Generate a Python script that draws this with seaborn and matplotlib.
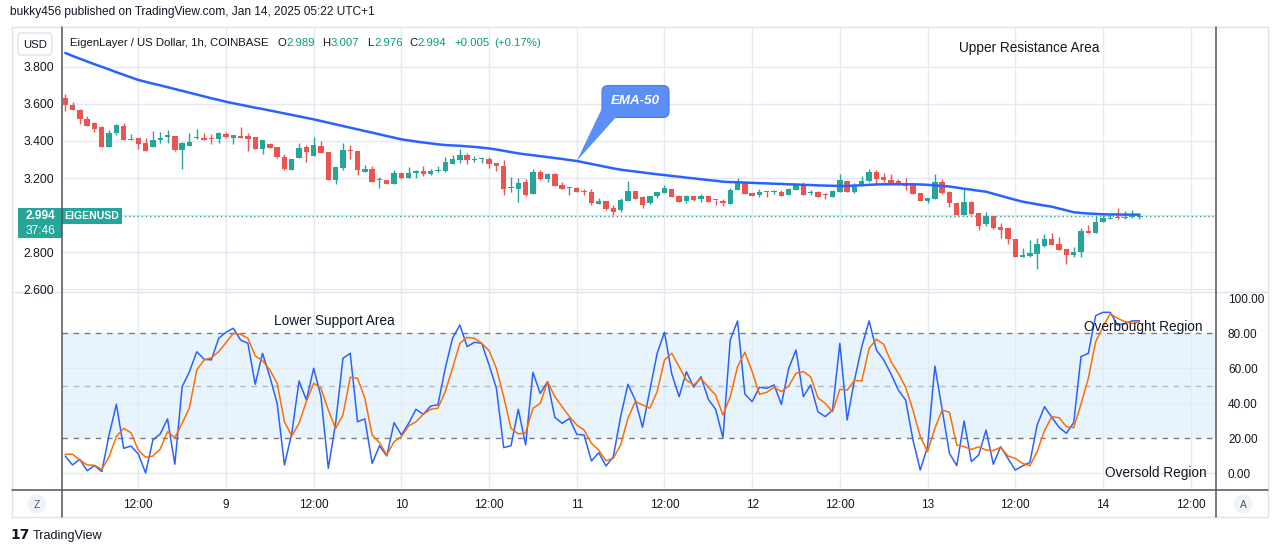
import numpy as np
import pandas as pd
import matplotlib
matplotlib.use("Agg")
import matplotlib.pyplot as plt
import seaborn as sns
from matplotlib.patches import Rectangle, FancyBboxPatch, Polygon, Circle
from matplotlib.transforms import blended_transform_factory

# ---------------- data (hours counted from Jan 8 00:00, UTC+1) ----------------
hours = list(range(2, 150))

opens = [3.631, 3.595, 3.568, 3.519, 3.497, 3.476, 3.369, 3.445, 3.481, 3.407,
         3.416, 3.391, 3.369, 3.405, 3.423, 3.427, 3.353, 3.375, 3.416, 3.414,
         3.414, 3.411, 3.438, 3.418, 3.427, 3.427, 3.420, 3.359, 3.382, 3.366,
         3.312, 3.243, 3.310, 3.367, 3.321, 3.373, 3.341, 3.189, 3.256, 3.350,
         3.346, 3.234, 3.249, 3.187, 3.187, 3.169, 3.225, 3.202, 3.225, 3.240,
         3.223, 3.236, 3.238, 3.276, 3.297, 3.326, 3.295, 3.304, 3.303, 3.281,
         3.265, 3.144, 3.142, 3.178, 3.113, 3.232, 3.195, 3.222, 3.162, 3.146,
         3.146, 3.125, 3.124, 3.061, 3.076, 3.038, 3.025, 3.077, 3.130, 3.097,
         3.065, 3.103, 3.119, 3.139, 3.103, 3.077, 3.103, 3.086, 3.103, 3.081,
         3.074, 3.059, 3.135, 3.180, 3.121, 3.108, 3.126, 3.124, 3.126, 3.108,
         3.137, 3.162, 3.120, 3.126, 3.113, 3.095, 3.126, 3.184, 3.124, 3.159,
         3.184, 3.231, 3.204, 3.189, 3.182, 3.168, 3.162, 3.119, 3.076, 3.087,
         3.178, 3.124, 3.065, 2.998, 3.072, 3.013, 2.951, 2.996, 2.935, 2.928,
         2.870, 2.775, 2.780, 2.791, 2.831, 2.870, 2.843, 2.816, 2.786, 2.802,
         2.914, 2.905, 2.964, 2.980, 2.987, 2.984, 2.989, 2.989]
highs = [3.652, 3.609, 3.572, 3.535, 3.503, 3.481, 3.459, 3.494, 3.499, 3.438,
         3.418, 3.414, 3.454, 3.450, 3.458, 3.429, 3.396, 3.445, 3.465, 3.443,
         3.436, 3.450, 3.450, 3.434, 3.476, 3.441, 3.423, 3.404, 3.389, 3.369,
         3.330, 3.301, 3.391, 3.377, 3.420, 3.400, 3.341, 3.258, 3.389, 3.377,
         3.346, 3.268, 3.263, 3.207, 3.189, 3.243, 3.227, 3.259, 3.241, 3.263,
         3.250, 3.263, 3.312, 3.324, 3.355, 3.333, 3.317, 3.308, 3.314, 3.283,
         3.297, 3.207, 3.202, 3.193, 3.249, 3.243, 3.229, 3.229, 3.178, 3.149,
         3.150, 3.139, 3.142, 3.092, 3.076, 3.054, 3.090, 3.184, 3.130, 3.101,
         3.103, 3.124, 3.162, 3.139, 3.106, 3.108, 3.103, 3.113, 3.103, 3.082,
         3.085, 3.144, 3.202, 3.182, 3.121, 3.140, 3.130, 3.135, 3.135, 3.144,
         3.169, 3.178, 3.137, 3.131, 3.121, 3.135, 3.222, 3.184, 3.171, 3.211,
         3.249, 3.241, 3.225, 3.222, 3.193, 3.200, 3.162, 3.121, 3.094, 3.222,
         3.195, 3.131, 3.072, 3.139, 3.076, 3.013, 3.016, 2.996, 2.957, 2.930,
         2.870, 2.820, 2.865, 2.874, 2.897, 2.903, 2.879, 2.816, 2.825, 2.928,
         2.944, 2.995, 2.998, 3.007, 3.036, 3.023, 3.025, 3.007]
lows = [3.564, 3.568, 3.492, 3.483, 3.450, 3.369, 3.369, 3.432, 3.405, 3.405,
        3.357, 3.348, 3.369, 3.391, 3.391, 3.348, 3.250, 3.375, 3.409, 3.407,
        3.382, 3.391, 3.414, 3.386, 3.414, 3.348, 3.359, 3.330, 3.360, 3.310,
        3.243, 3.243, 3.310, 3.288, 3.321, 3.337, 3.189, 3.169, 3.241, 3.303,
        3.218, 3.234, 3.180, 3.148, 3.169, 3.169, 3.193, 3.202, 3.202, 3.211,
        3.218, 3.232, 3.234, 3.276, 3.283, 3.278, 3.287, 3.283, 3.256, 3.240,
        3.110, 3.124, 3.072, 3.104, 3.113, 3.189, 3.178, 3.159, 3.142, 3.108,
        3.122, 3.110, 3.052, 3.061, 3.027, 2.998, 3.018, 3.077, 3.086, 3.040,
        3.059, 3.094, 3.119, 3.099, 3.072, 3.067, 3.077, 3.072, 3.072, 3.052,
        3.050, 3.059, 3.135, 3.115, 3.103, 3.095, 3.099, 3.112, 3.104, 3.108,
        3.137, 3.108, 3.108, 3.097, 3.088, 3.095, 3.126, 3.123, 3.121, 3.159,
        3.180, 3.168, 3.180, 3.171, 3.160, 3.135, 3.115, 3.076, 3.067, 3.087,
        3.115, 3.041, 2.998, 2.998, 2.998, 2.919, 2.941, 2.924, 2.876, 2.845,
        2.773, 2.773, 2.771, 2.706, 2.827, 2.836, 2.813, 2.735, 2.775, 2.775,
        2.905, 2.905, 2.964, 2.977, 2.978, 2.978, 2.982, 2.976]
closes = [3.595, 3.569, 3.521, 3.483, 3.465, 3.369, 3.443, 3.487, 3.405, 3.411,
          3.386, 3.348, 3.405, 3.416, 3.434, 3.351, 3.391, 3.395, 3.420, 3.407,
          3.409, 3.445, 3.420, 3.432, 3.416, 3.413, 3.359, 3.404, 3.364, 3.313,
          3.249, 3.301, 3.362, 3.339, 3.378, 3.337, 3.189, 3.258, 3.351, 3.346,
          3.241, 3.249, 3.180, 3.191, 3.169, 3.225, 3.202, 3.225, 3.240, 3.223,
          3.240, 3.241, 3.286, 3.303, 3.326, 3.295, 3.301, 3.308, 3.277, 3.267,
          3.142, 3.148, 3.175, 3.110, 3.234, 3.195, 3.222, 3.159, 3.142, 3.148,
          3.122, 3.122, 3.063, 3.076, 3.034, 3.018, 3.081, 3.130, 3.086, 3.056,
          3.103, 3.124, 3.146, 3.099, 3.072, 3.101, 3.081, 3.103, 3.072, 3.079,
          3.063, 3.135, 3.178, 3.115, 3.103, 3.124, 3.122, 3.126, 3.104, 3.140,
          3.162, 3.108, 3.124, 3.097, 3.110, 3.130, 3.189, 3.123, 3.162, 3.184,
          3.231, 3.197, 3.189, 3.175, 3.160, 3.157, 3.115, 3.076, 3.092, 3.178,
          3.121, 3.063, 2.998, 3.070, 3.007, 2.941, 2.996, 2.930, 2.921, 2.870,
          2.773, 2.784, 2.795, 2.841, 2.870, 2.840, 2.813, 2.786, 2.800, 2.914,
          2.905, 2.962, 2.984, 2.984, 2.984, 2.987, 2.996, 2.994]
ema50 = [3.876, 3.860, 3.845, 3.830, 3.815, 3.801, 3.787, 3.772, 3.758, 3.744, 3.730,
         3.720, 3.710, 3.701, 3.691, 3.681, 3.671, 3.661, 3.651, 3.641, 3.631, 3.622, 3.612,
         3.604, 3.596, 3.588, 3.580, 3.573, 3.565, 3.557, 3.549, 3.541, 3.533, 3.525, 3.517,
         3.508, 3.499, 3.490, 3.481, 3.472, 3.463, 3.454, 3.445, 3.436, 3.427, 3.418, 3.409,
         3.403, 3.397, 3.392, 3.387, 3.382, 3.378, 3.376, 3.374,
         3.371, 3.368, 3.364, 3.360, 3.354, 3.347, 3.340, 3.333,
         3.328, 3.323, 3.318, 3.313, 3.308, 3.303, 3.297, 3.292,
         3.284, 3.276, 3.268, 3.260, 3.252, 3.245,
         3.240, 3.235, 3.230, 3.225, 3.220, 3.216,
         3.211, 3.207, 3.202, 3.198, 3.193, 3.189, 3.185, 3.180,
         3.178, 3.177, 3.175, 3.174, 3.172, 3.171, 3.169, 3.168,
         3.166, 3.165, 3.163, 3.162, 3.160, 3.159, 3.158, 3.157, 3.157,
         3.159, 3.161, 3.163, 3.165, 3.166,
         3.166, 3.166, 3.166, 3.166, 3.165,
         3.163, 3.160, 3.157, 3.154,
         3.148, 3.142, 3.137, 3.131, 3.126,
         3.115, 3.104, 3.093, 3.082, 3.072,
         3.065, 3.058, 3.051, 3.045,
         3.035, 3.025, 3.015,
         3.011, 3.008, 3.006, 3.004,
         3.003, 3.003, 3.002, 3.002, 3.002]
stoch_k = [9.7, 4.6, 7.8, 1.3, 4.2, 0.8, 21.7, 39.2, 14.1, 15.4,
           10.9, 0.0, 18.9, 22.3, 30.9, 5.0, 49.3, 57.9, 69.3, 65.0,
           64.6, 77.0, 80.4, 82.7, 76.0, 74.1, 50.7, 68.4, 55.0, 39.8,
           4.6, 22.7, 52.6, 41.7, 59.8, 43.6, 2.7, 28.4, 65.5, 68.4,
           29.3, 30.9, 5.5, 15.6, 9.7, 28.8, 21.7, 28.4, 36.4, 33.5,
           38.3, 38.9, 59.8, 77.0, 84.6, 72.2, 74.7, 74.1, 61.7, 48.4,
           14.5, 15.6, 36.4, 16.0, 57.5, 45.5, 52.2, 31.8, 28.4, 31.2,
           22.1, 21.7, 6.9, 11.6, 4.0, 9.3, 32.2, 50.7, 41.7, 26.1,
           47.4, 68.4, 80.4, 56.6, 43.6, 57.9, 49.0, 55.0, 42.1, 36.4,
           20.2, 76.0, 86.9, 45.1, 40.8, 49.0, 48.4, 50.3, 39.2, 59.8,
           70.3, 43.6, 50.3, 35.0, 32.2, 36.0, 74.1, 30.3, 53.1, 72.2,
           86.9, 70.3, 64.6, 56.6, 47.4, 41.7, 18.9, 1.7, 15.0, 61.1,
           36.0, 11.2, 4.2, 29.7, 6.5, 10.3, 24.6, 5.0, 15.0, 8.4,
           1.7, 4.0, 6.1, 27.4, 37.9, 31.8, 26.1, 22.7, 28.8, 66.5,
           68.4, 89.9, 91.8, 91.8, 84.6, 85.5, 86.9, 87.0]
stoch_d = [10.7, 10.7, 7.4, 4.6, 4.4, 2.1, 9.3, 20.8, 25.5, 23.0,
           13.1, 9.0, 9.7, 13.7, 23.6, 20.2, 28.4, 37.3, 58.9, 64.6,
           65.9, 69.3, 74.5, 79.8, 79.2, 77.0, 66.9, 64.2, 58.9, 51.2,
           29.3, 21.1, 28.4, 40.8, 51.2, 48.4, 36.0, 25.5, 33.1, 54.7,
           54.1, 42.7, 21.7, 17.3, 10.3, 17.9, 20.8, 26.9, 29.3, 33.5,
           36.4, 37.0, 46.5, 59.8, 74.1, 77.5, 77.0, 74.1, 69.9, 59.8,
           43.6, 25.5, 22.3, 23.0, 37.0, 39.8, 52.2, 43.6, 37.9, 32.2,
           27.4, 24.6, 17.0, 13.1, 7.0, 8.4, 16.0, 31.2, 40.8, 38.9,
           37.0, 46.5, 64.6, 68.4, 60.8, 53.1, 50.3, 54.1, 49.0, 44.6,
           33.1, 43.6, 60.8, 69.0, 57.9, 45.0, 46.1, 49.0, 46.5, 49.7,
           57.0, 57.9, 55.0, 43.0, 39.8, 35.0, 47.8, 47.4, 52.8, 52.6,
           71.2, 76.4, 73.5, 63.6, 57.0, 49.0, 36.0, 20.8, 12.2, 25.5,
           36.0, 34.7, 16.0, 15.0, 13.5, 15.0, 13.1, 12.8, 14.7, 9.7,
           8.4, 5.5, 4.2, 12.2, 24.2, 32.2, 31.6, 26.5, 25.9, 39.4,
           54.1, 75.0, 83.6, 90.9, 88.4, 86.5, 85.5, 86.3]

tick_hours = [12, 24, 36, 48, 60, 72, 84, 96, 108, 120, 132, 144, 156]
tick_labels = ["12:00", "9", "12:00", "10", "12:00", "11", "12:00", "12",
               "12:00", "13", "12:00", "14", "12:00"]
price_labels = [2.6, 2.8, 3.2, 3.4, 3.6, 3.8]
price_grid = [2.6, 2.8, 3.0, 3.2, 3.4, 3.6, 3.8]
stoch_ticks = [0, 20, 40, 60, 80, 100]
stoch_grid = [0, 40, 60]
countdown = "37:46"
symbol = "EIGENUSD"
callout_hour = 72

# ---------------- style ----------------
sns.set_style("white")
plt.rcParams["font.family"] = ["Liberation Sans", "DejaVu Sans"]

GREEN = "#26a69a"
RED = "#ef5350"
TEAL_TXT = "#089981"
BLUE = "#2962ff"
ORANGE = "#ff6d00"
GRID = "#e4eaf1"
LIGHT = "#e0e3eb"
DARK = "#50535e"
TXT = "#131722"
CALL = "#5b8ff5"

W, H = 1281, 553
fig = plt.figure(figsize=(W / 100, H / 100), dpi=100)
fig.patch.set_facecolor("white")


def frac_rect(x0, y0, x1, y1):
    return [x0 / W, (H - y1) / H, (x1 - x0) / W, (y1 - y0) / H]


bg = fig.add_axes([0, 0, 1, 1], zorder=0)
bg.set_xlim(0, W); bg.set_ylim(H, 0); bg.axis("off")
ax_p = fig.add_axes(frac_rect(62, 27, 1216, 292), zorder=1)
ax_s = fig.add_axes(frac_rect(62, 292, 1216, 490), zorder=1)
fg = fig.add_axes([0, 0, 1, 1], zorder=5)
fg.set_xlim(0, W); fg.set_ylim(H, 0); fg.axis("off")
for a in (ax_p, ax_s):
    a.set_facecolor("none")
    for s in a.spines.values():
        s.set_visible(False)

XLIM = (1.56, 159.47)
P_LIM = (2.5838, 4.0162)
S_LIM = (-9.714, 103.43)

# ---------------- price pane ----------------
ax_p.set_xlim(*XLIM); ax_p.set_ylim(*P_LIM)
for t in tick_hours:
    ax_p.axvline(t, color=GRID, lw=1, zorder=0)
for p in price_grid:
    ax_p.axhline(p, color=GRID, lw=1, zorder=0)

o = np.array(opens); c = np.array(closes)
hi = np.array(highs); lo = np.array(lows)
cols = np.where(c >= o, GREEN, RED)
ax_p.vlines(hours, lo, hi, colors=cols, lw=1.0, zorder=2)
ax_p.bar(hours, np.maximum(np.abs(c - o), 0.0055), bottom=np.minimum(o, c),
         width=0.74, color=cols, lw=0, zorder=3)

df_p = pd.DataFrame({"hour": hours, "ema": ema50})
sns.lineplot(data=df_p, x="hour", y="ema", ax=ax_p, color=BLUE, lw=1.8,
             estimator=None, errorbar=None, zorder=4)

last_close = closes[-1]
ax_p.axhline(last_close, color=GREEN, lw=1, ls=(0, (1, 2)), zorder=1)

ax_p.set_xticks([])
ax_p.set_yticks(price_labels)
ax_p.set_yticklabels([f"{v:.3f}" for v in price_labels])
ax_p.tick_params(axis="y", length=0, pad=5.8, labelsize=8.8, labelcolor=TXT)
ax_p.set_xlabel(""); ax_p.set_ylabel("")

# last price label
tr = blended_transform_factory(ax_p.transAxes, ax_p.transData)
ppu = 265.0 / (P_LIM[1] - P_LIM[0])
axw = 1154.0
ax_p.add_patch(Rectangle((-44 / axw, last_close - 22.3 / ppu), 44 / axw, 30 / ppu,
                         transform=tr, clip_on=False, color=GREEN, lw=0, zorder=8))
ax_p.add_patch(Rectangle((0, last_close - 8.3 / ppu), 60 / axw, 16 / ppu,
                         transform=tr, clip_on=False, color=GREEN, lw=0, zorder=8))
ax_p.text(-22 / axw, last_close, f"{last_close:.3f}", transform=tr, color="white",
          fontsize=8.6, fontweight="bold", ha="center", va="center", zorder=9, clip_on=False)
ax_p.text(-22 / axw, last_close - 15 / ppu, countdown, transform=tr, color="white",
          fontsize=8.6, ha="center", va="center", zorder=9, clip_on=False)
ax_p.text(30 / axw, last_close, symbol, transform=tr, color="white",
          fontsize=7.6, fontweight="bold", ha="center", va="center", zorder=9, clip_on=False)

# ---------------- stochastic pane ----------------
ax_s.set_xlim(*XLIM); ax_s.set_ylim(*S_LIM)
ax_s.axhspan(20, 80, color="#2196f3", alpha=0.1, lw=0, zorder=0)
for t in tick_hours:
    ax_s.axvline(t, color=GRID, lw=1, zorder=0)
for g in stoch_grid:
    ax_s.axhline(g, color=GRID, lw=1, zorder=0)
ax_s.axhline(80, color="#787b86", lw=1, ls=(0, (4, 4)), zorder=1)
ax_s.axhline(20, color="#787b86", lw=1, ls=(0, (4, 4)), zorder=1)
ax_s.axhline(50, color="#787b86", alpha=0.5, lw=1, ls=(0, (4, 4)), zorder=1)

df_s = pd.DataFrame({"hour": hours, "K": stoch_k, "D": stoch_d})
sns.lineplot(data=df_s, x="hour", y="K", ax=ax_s, color=BLUE, lw=1.1,
             estimator=None, errorbar=None, zorder=3)
sns.lineplot(data=df_s, x="hour", y="D", ax=ax_s, color=ORANGE, lw=1.1,
             estimator=None, errorbar=None, zorder=4)
ax_s.set_xlabel(""); ax_s.set_ylabel("")
ax_s.yaxis.tick_right()
ax_s.set_yticks(stoch_ticks)
ax_s.set_yticklabels([f"{v:.2f}" for v in stoch_ticks])
ax_s.tick_params(axis="y", length=0, pad=8.6, labelsize=8.5, labelcolor=TXT)
ax_s.set_xticks(tick_hours)
ax_s.set_xticklabels(tick_labels)
ax_s.tick_params(axis="x", length=0, pad=6.5, labelsize=8.5, labelcolor=TXT)

# ---------------- frame ----------------
bg.add_patch(Rectangle((12, 27), 1256, 490, fill=False, ec=LIGHT, lw=1))
bg.plot([12, 1268], [292, 292], color=LIGHT, lw=1)
fg.plot([12, 1268], [490, 490], color=DARK, lw=1.1)
fg.plot([62, 62], [27, 517], color=DARK, lw=1.1)
fg.plot([1216, 1216], [27, 517], color=DARK, lw=1.1)

# header
bg.text(10, 12, "bukky456 published on TradingView.com, Jan 14, 2025 05:22 UTC+1",
        fontsize=8.6, color=TXT, ha="left", va="center")
bg.add_patch(FancyBboxPatch((18, 33), 34, 22, boxstyle="round,pad=0,rounding_size=4",
                            fc="white", ec=LIGHT, lw=1))
bg.text(35, 44.5, "USD", fontsize=8.2, color=TXT, ha="center", va="center")
hdr = [("EigenLayer / US Dollar, 1h, COINBASE", 70, TXT),
       ("O", 278, TXT), ("2.989", 286, TEAL_TXT),
       ("H", 322, TXT), ("3.007", 330.5, TEAL_TXT),
       ("L", 367, TXT), ("2.976", 374, TEAL_TXT),
       ("C", 409, TXT), ("2.994", 417, TEAL_TXT),
       ("+0.005", 454, TEAL_TXT), ("(+0.17%)", 494, TEAL_TXT)]
for s, x, col in hdr:
    fg.text(x, 43, s, fontsize=8.2, color=col, ha="left", va="center")

# annotations
fg.text(1029, 48, "Upper Resistance Area", fontsize=9.8, color=TXT, ha="center", va="center")
fg.text(334, 321, "Lower Support Area", fontsize=9.8, color=TXT, ha="center", va="center")
fg.text(1143, 327, "Overbought Region", fontsize=9.8, color=TXT, ha="center", va="center")
fg.text(1156, 473, "Oversold Region", fontsize=9.8, color=TXT, ha="center", va="center")

# EMA-50 callout
tip = ax_p.transData.transform((callout_hour, ema50[hours.index(callout_hour)]))
tipx, tipy = tip[0], H - tip[1]
fg.add_patch(FancyBboxPatch((602, 85.5), 67, 32, boxstyle="round,pad=0,rounding_size=6",
                            fc=CALL, ec="#4a7be6", lw=0.8, zorder=6))
fg.add_patch(Polygon([(tipx, tipy), (602.6, 107), (616, 117.2)], closed=True,
                     fc=CALL, ec="none", zorder=7))
fg.text(635.5, 101.5, "EMA-50", fontsize=9.6, color="white", fontweight="bold",
        fontstyle="italic", ha="center", va="center", zorder=8)

# axis buttons
for cx, lab in [(37, "Z"), (1243, "A")]:
    bg.add_patch(Circle((cx, 504), 9.5, fc="#f0f3fa", ec="none"))
    bg.text(cx, 504.5, lab, fontsize=7.5, color=DARK, ha="center", va="center")

# logo
bg.text(10, 535, "17", fontsize=10, fontweight="bold", color=TXT, ha="left", va="center",
        family=["DejaVu Sans"])
bg.text(33, 535.5, "TradingView", fontsize=9.1, color=TXT, ha="left", va="center")

fig.savefig("out.png", dpi=100, facecolor="white")
